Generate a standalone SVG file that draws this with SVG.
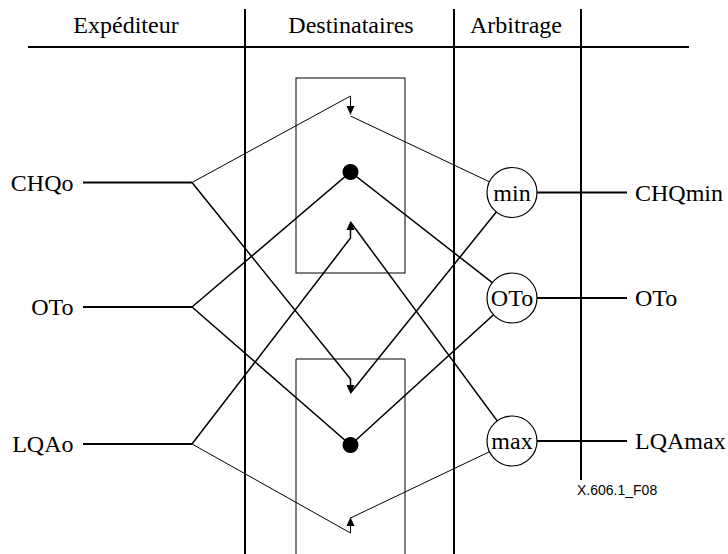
<svg xmlns="http://www.w3.org/2000/svg" width="728" height="554" viewBox="0 0 728 554">
<style>
.t{font-family:"Liberation Serif","Times New Roman",serif;font-size:24px;fill:#000}
.s{font-family:"Liberation Sans",Arial,sans-serif;font-size:14px;fill:#000}
.frame{stroke:#000;stroke-width:2;fill:none}
.box{stroke:#000;stroke-width:1;fill:none}
.thick{stroke:#000;stroke-width:1.5;fill:none}
.thin{stroke:#000;stroke-width:1;fill:none}
.io{stroke:#000;stroke-width:2;fill:none}
.node{stroke:#000;stroke-width:1.2;fill:#fff}
.dot{fill:#000}
.head{fill:#000}
</style>
<defs>
<polygon id="hd" points="-4,-9 4,-9 0,0" class="head"/>
<polygon id="hu" points="-4,9 4,9 0,0" class="head"/>
</defs>
<g id="frame">
<line class="frame" x1="28" y1="47" x2="689" y2="47"/>
<line class="frame" x1="245" y1="9" x2="245" y2="554"/>
<line class="frame" x1="454" y1="9" x2="454" y2="554"/>
<line class="frame" x1="581" y1="9" x2="581" y2="480"/>
<text class="t" x="126" y="33" text-anchor="middle">Expéditeur</text>
<text class="t" x="351" y="33" text-anchor="middle">Destinataires</text>
<text class="t" x="516" y="33" text-anchor="middle">Arbitrage</text>
<rect class="box" x="296" y="78" width="109" height="195"/>
<path class="box" d="M296,554 V359 H405 V554"/>
<text class="s" x="577" y="495">X.606.1_F08</text>
</g>
<g id="connectors">
<line class="io" x1="83" y1="182.5" x2="192" y2="182.5"/>
<line class="io" x1="83" y1="307" x2="192" y2="307"/>
<line class="io" x1="83" y1="444" x2="192" y2="444"/>
<polyline class="thin" points="192,182.5 350.5,96 350.5,107"/>
<use href="#hd" x="350.5" y="115"/>
<line class="thin" x1="350.5" y1="116" x2="512" y2="192.5"/>
<polyline class="thick" points="192,182.5 350.5,379 350.5,386"/>
<use href="#hd" x="350.5" y="394"/>
<line class="thick" x1="350.5" y1="393" x2="512" y2="192.5"/>
<polyline class="thick" points="192,444 350.5,238 350.5,229"/>
<use href="#hu" x="350.5" y="221"/>
<line class="thick" x1="350.5" y1="222" x2="512" y2="441"/>
<polyline class="thin" points="192,444 350.5,533 350.5,525"/>
<use href="#hu" x="350.5" y="517"/>
<line class="thin" x1="350.5" y1="518" x2="512" y2="441"/>
<polyline class="thick" points="192,307 350.5,172 512,298"/>
<polyline class="thick" points="192,307 350.5,445 512,298"/>
<line class="io" x1="512" y1="192.5" x2="627" y2="192.5"/>
<line class="io" x1="512" y1="298" x2="627" y2="298"/>
<line class="io" x1="512" y1="441" x2="627" y2="441"/>
</g>
<g id="in-chqo"><text class="t" x="73.5" y="190.5" text-anchor="end">CHQo</text></g>
<g id="in-oto"><text class="t" x="73.5" y="315" text-anchor="end">OTo</text></g>
<g id="in-lqao"><text class="t" x="73.5" y="452" text-anchor="end">LQAo</text></g>
<g id="dot-top"><circle class="dot" cx="350.5" cy="172" r="8"/></g>
<g id="dot-bottom"><circle class="dot" cx="350.5" cy="445" r="8"/></g>
<g id="min"><circle class="node" cx="512" cy="192.5" r="25"/><text class="t" x="512" y="200.5" text-anchor="middle">min</text></g>
<g id="oto"><circle class="node" cx="512" cy="298" r="25"/><text class="t" x="512" y="306" text-anchor="middle">OTo</text></g>
<g id="max"><circle class="node" cx="512" cy="441" r="25"/><text class="t" x="512" y="449" text-anchor="middle">max</text></g>
<g id="out-chqmin"><text class="t" x="635" y="200.5">CHQmin</text></g>
<g id="out-oto"><text class="t" x="635" y="306">OTo</text></g>
<g id="out-lqamax"><text class="t" x="635" y="449">LQAmax</text></g>
</svg>
